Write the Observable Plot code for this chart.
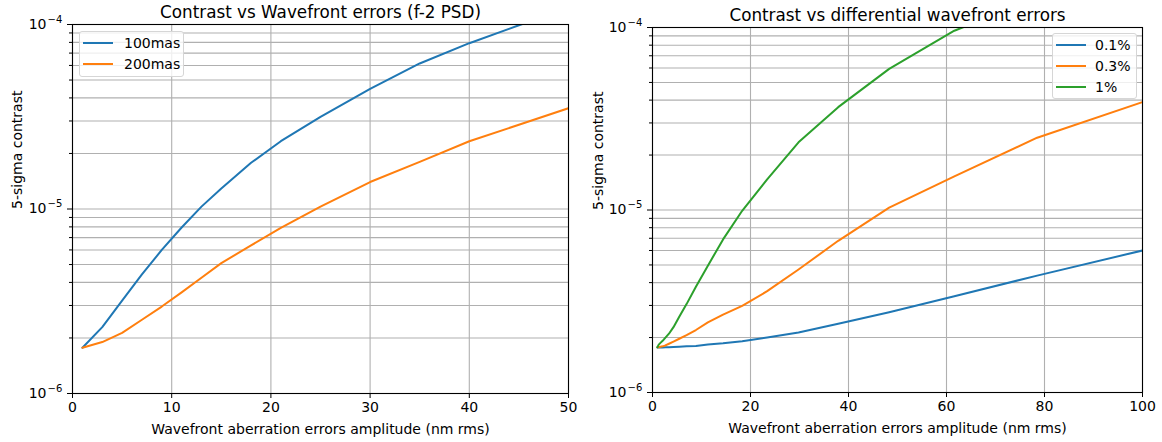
<!DOCTYPE html>
<html>
<head>
<meta charset="utf-8">
<script src="https://cdn.jsdelivr.net/npm/d3@7"></script>
<script src="https://cdn.jsdelivr.net/npm/@observablehq/plot@0.6"></script>
<style>
  html, body { margin: 0; padding: 0; background: #fff; }
  #wrap { position: relative; width: 1162px; height: 442px; font-family: "DejaVu Sans", sans-serif; }
  .panel { position: absolute; top: 0; }
  .legend { position: absolute; background: rgba(255,255,255,0.8); border: 1px solid #d6d6d6; border-radius: 3px; box-sizing: border-box; }
  .entry { position: absolute; font-size: 14px; color: #000; line-height: 16px; white-space: nowrap; }
  .entry .sw { position: absolute; top: 7px; height: 2px; width: 30px; }
</style>
</head>
<body>
<div id="wrap"></div>
<script>
// ---------- Data ----------
// Left panel: contrast vs wavefront error (f-2 PSD)
const leftX = [1, 3, 5, 7, 9, 11, 13, 15, 18, 21, 25, 30, 35, 40, 45, 50];
const left100mas = [1.77e-6, 2.29e-6, 3.19e-6, 4.42e-6, 6.0e-6, 7.94e-6, 1.03e-5, 1.29e-5, 1.78e-5, 2.33e-5, 3.16e-5, 4.48e-5, 6.15e-5, 7.92e-5, 9.9e-5, 1.23e-4];
const left200mas = [1.77e-6, 1.9e-6, 2.13e-6, 2.51e-6, 2.96e-6, 3.53e-6, 4.24e-6, 5.09e-6, 6.35e-6, 7.9e-6, 1.03e-5, 1.4e-5, 1.8e-5, 2.33e-5, 2.86e-5, 3.52e-5];
const leftSeries = ["100mas", "200mas"];

// Right panel: contrast vs differential wavefront errors
const rightX = [1, 1.27, 1.62, 2.07, 2.64, 3.36, 4.28, 5.46, 6.95, 8.86, 11.3, 14.4, 18.3, 23.4, 29.8, 37.9, 48.3, 61.6, 78.5, 100];
const right01 = [1.765e-6, 1.765e-6, 1.766e-6, 1.767e-6, 1.77e-6, 1.772e-6, 1.776e-6, 1.782e-6, 1.79e-6, 1.8e-6, 1.83e-6, 1.86e-6, 1.91e-6, 2.0e-6, 2.13e-6, 2.38e-6, 2.75e-6, 3.37e-6, 4.37e-6, 6.0e-6];
const right03 = [1.77e-6, 1.77e-6, 1.78e-6, 1.79e-6, 1.81e-6, 1.85e-6, 1.9e-6, 1.97e-6, 2.06e-6, 2.2e-6, 2.42e-6, 2.67e-6, 2.98e-6, 3.59e-6, 4.72e-6, 6.78e-6, 1.03e-5, 1.53e-5, 2.49e-5, 3.9e-5];
const right1 = [1.77e-6, 1.83e-6, 1.87e-6, 1.92e-6, 2.0e-6, 2.1e-6, 2.28e-6, 2.6e-6, 3.05e-6, 3.8e-6, 4.95e-6, 6.9e-6, 9.9e-6, 1.47e-5, 2.35e-5, 3.66e-5, 5.93e-5, 9.6e-5, 1.45e-4, 2.1e-4];
const rightSeries = ["0.1%", "0.3%", "1%"];

const leftXTicks = [0, 10, 20, 30, 40, 50];
const rightXTicks = [0, 20, 40, 60, 80, 100];
const yMajor = [1e-6, 1e-5, 1e-4];
const yMinor = [2e-6,3e-6,4e-6,5e-6,6e-6,7e-6,8e-6,9e-6,2e-5,3e-5,4e-5,5e-5,6e-5,7e-5,8e-5,9e-5];

const titles = ["Contrast vs Wavefront errors (f-2 PSD)", "Contrast vs differential wavefront errors"];
const xLabel = "Wavefront aberration errors amplitude (nm rms)";
const yLabel = "5-sigma contrast";

const colors = ["#1f77b4", "#ff7f0e", "#2ca02c"];

// ---------- Helpers ----------
const expLabel = v => String(Math.round(Math.log10(v))).replace("-", "\u2212");

function rows(xs, seriesNames, valueArrays) {
  const out = [];
  seriesNames.forEach((s, i) => xs.forEach((x, j) => out.push({x, y: valueArrays[i][j], series: s})));
  return out;
}

function panel({xs, names, values, xDomain, xTicks, title, ml, mr, mt, mb}) {
  const data = rows(xs, names, values);
  return Plot.plot({
    width: 581, height: 442,
    marginLeft: ml, marginRight: mr, marginTop: mt, marginBottom: mb,
    style: {fontFamily: "DejaVu Sans, sans-serif", fontSize: "14px", color: "#000", background: "#fff"},
    x: {domain: xDomain},
    y: {type: "log", domain: [1e-6, 1e-4]},
    color: {domain: names, range: colors.slice(0, names.length)},
    marks: [
      Plot.gridY(yMajor.concat(yMinor), {stroke: "#b0b0b0", strokeOpacity: 1, strokeWidth: 1.1}),
      Plot.gridX(xTicks, {stroke: "#b0b0b0", strokeOpacity: 1, strokeWidth: 1.1}),
      Plot.line(data, {x: "x", y: "y", z: "series", stroke: "series", strokeWidth: 2, clip: true}),
      Plot.axisX(xTicks, {tickSize: 5, tickPadding: 4, label: null, tickFormat: d => String(d), fontSize: 14}),
      // mathtext-like "10^n": base from the axis, exponent as a raised smaller text
      Plot.axisY(yMajor, {tickSize: 5, tickPadding: 21, label: null, tickFormat: () => "10", fontSize: 14}),
      Plot.text(yMajor, {y: d => d, text: expLabel, frameAnchor: "left", textAnchor: "start", dx: -25, dy: -5, fontSize: 10}),
      Plot.axisY(yMinor, {tickSize: 3, label: null, tickFormat: () => ""}),
      Plot.frame({stroke: "#000", strokeWidth: 1.1}),
      Plot.text([title], {text: d => d, frameAnchor: "top", lineAnchor: "middle", dy: -12, fontSize: 16.8}),
      Plot.text([xLabel], {text: d => d, frameAnchor: "bottom", lineAnchor: "middle", dy: 36, fontSize: 14}),
      Plot.text([yLabel], {text: d => d, frameAnchor: "left", lineAnchor: "middle", dx: -ml + 17, rotate: -90, fontSize: 14})
    ]
  });
}

const wrap = document.getElementById("wrap");

const leftPlot = panel({xs: leftX, names: leftSeries, values: [left100mas, left200mas], xDomain: [0, 50], xTicks: leftXTicks, title: titles[0], ml: 72, mr: 13, mt: 24, mb: 49});
const rightPlot = panel({xs: rightX, names: rightSeries, values: [right01, right03, right1], xDomain: [0, 100], xTicks: rightXTicks, title: titles[1], ml: 71, mr: 20, mt: 27, mb: 50});

const lp = document.createElement("div"); lp.className = "panel"; lp.style.left = "0px"; lp.appendChild(leftPlot); wrap.appendChild(lp);
const rp = document.createElement("div"); rp.className = "panel"; rp.style.left = "581px"; rp.appendChild(rightPlot); wrap.appendChild(rp);

function legend(names, box, entryYs, lineX, textX) {
  const lg = document.createElement("div");
  lg.className = "legend";
  Object.assign(lg.style, {left: box[0] + "px", top: box[1] + "px", width: (box[2] - box[0]) + "px", height: (box[3] - box[1]) + "px"});
  wrap.appendChild(lg);
  names.forEach((n, i) => {
    const e = document.createElement("div");
    e.className = "entry";
    e.style.left = lineX + "px";
    e.style.top = (entryYs[i] - 8) + "px";
    const sw = document.createElement("span");
    sw.className = "sw";
    sw.style.left = "0px";
    sw.style.background = colors[i];
    e.appendChild(sw);
    const t = document.createElement("span");
    t.style.position = "absolute";
    t.style.left = (textX - lineX) + "px";
    t.textContent = n;
    e.appendChild(t);
    wrap.appendChild(e);
  });
}
legend(leftSeries, [79, 31, 184, 77], [43, 64], 83, 124);
legend(rightSeries, [1052, 33, 1137, 99], [45, 66, 87], 1056, 1095);
</script>
</body>
</html>
